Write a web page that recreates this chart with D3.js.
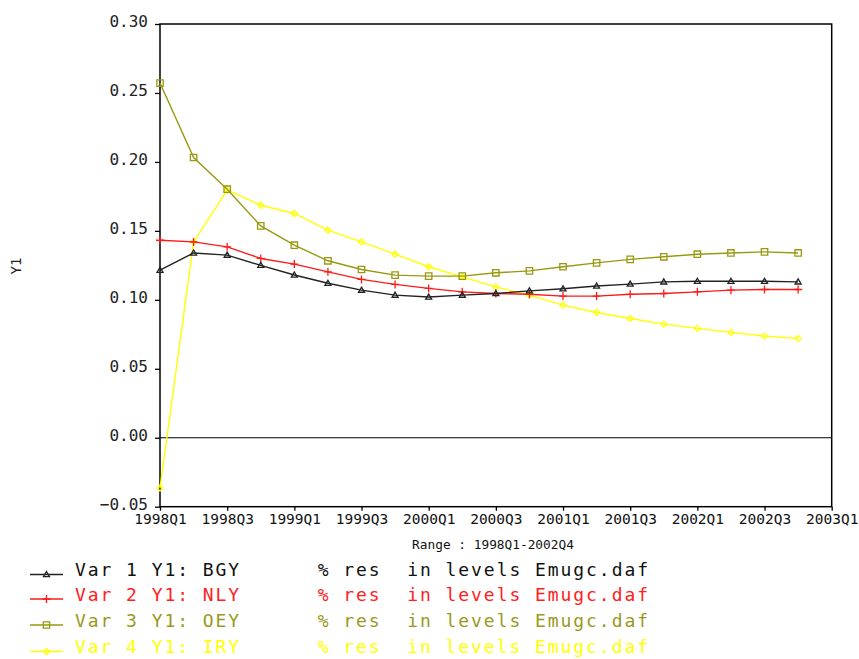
<!DOCTYPE html>
<html>
<head>
<meta charset="utf-8">
<script src="https://cdn.jsdelivr.net/npm/d3@7"></script>
<style>
  body { margin: 0; background: #fff; }
  svg { display: block; }
  text { font-family: "DejaVu Sans Mono", "Liberation Mono", monospace; white-space: pre; }
</style>
</head>
<body>
<script>
(function(){
  //quarters shown on the x axis (1998Q1 .. 2003Q1)
  var quarters = ["1998Q1","1998Q2","1998Q3","1998Q4","1999Q1","1999Q2","1999Q3","1999Q4",
                  "2000Q1","2000Q2","2000Q3","2000Q4","2001Q1","2001Q2","2001Q3","2001Q4",
                  "2002Q1","2002Q2","2002Q3","2002Q4","2003Q1"];
  var xTickLabels = ["1998Q1","1998Q3","1999Q1","1999Q3","2000Q1","2000Q3",
                     "2001Q1","2001Q3","2002Q1","2002Q3","2003Q1"];
  var yTicks = [-0.05, 0, 0.05, 0.10, 0.15, 0.20, 0.25, 0.30];

  //series values, 1998Q1 .. 2002Q4
  var bgy = [0.1215, 0.134, 0.1324, 0.125, 0.118, 0.112, 0.107, 0.1034, 0.102, 0.1034,
             0.1046, 0.1065, 0.108, 0.110, 0.1114, 0.113, 0.1135, 0.1135, 0.1135, 0.113];
  var nly = [0.1432, 0.142, 0.1384, 0.130, 0.1259, 0.1203, 0.1148, 0.1112, 0.1083, 0.1058,
             0.1046, 0.104, 0.1027, 0.1027, 0.104, 0.1046, 0.1058, 0.107, 0.1075, 0.1075];
  var oey = [0.2572, 0.2032, 0.1802, 0.1536, 0.1396, 0.1283, 0.122, 0.1179, 0.1172, 0.1172,
             0.1196, 0.121, 0.124, 0.1268, 0.1293, 0.1312, 0.1331, 0.134, 0.1348, 0.134];
  var iry = [-0.0365, 0.142, 0.1795, 0.1686, 0.1626, 0.1505, 0.142, 0.1331, 0.124, 0.1167,
             0.1094, 0.1034, 0.0962, 0.0908, 0.0865, 0.0824, 0.0793, 0.0764, 0.0737, 0.072];

  var seriesNames = ["Var 1 Y1: BGY", "Var 2 Y1: NLY", "Var 3 Y1: OEY", "Var 4 Y1: IRY"];
  var seriesValues = [bgy, nly, oey, iry];
  var seriesColors = ["#222222", "#ff1a1a", "#999911", "#ffff00"];
  var seriesTextColors = ["#111111", "#ff2020", "#999922", "#ffff00"];
  var seriesMarkers = ["triangle", "plus", "square", "diamond"];

  //frame dimensions
  var width = 859,
      height = 659,
      plotLeft = 160,
      plotRight = 831.7,
      plotTop = 24,
      plotBottom = 506.7;

  var svg = d3.select("body")
      .append("svg")
      .attr("width", width)
      .attr("height", height);

  var xScale = d3.scaleLinear()
      .domain([0, quarters.length - 1])
      .range([plotLeft, plotRight]);

  var yScale = d3.scaleLinear()
      .domain([-0.05, 0.30])
      .range([plotBottom, plotTop]);

  //left axis, ticks pointing out
  var yAxis = d3.axisLeft(yScale)
      .tickValues(yTicks)
      .tickSize(5)
      .tickPadding(7)
      .tickFormat(d3.format(".2f"));

  var yAxisG = svg.append("g")
      .attr("transform", "translate(" + plotLeft + ",0)")
      .call(yAxis);
  yAxisG.select(".domain").remove();
  yAxisG.selectAll("line").attr("stroke", "#000").attr("stroke-width", 1.3);
  yAxisG.selectAll("text")
      .attr("dy", "0.15em")
      .attr("fill", "#222")
      .style("font-size", "16px");

  //bottom axis, ticks pointing down
  var xAxis = d3.axisBottom(xScale)
      .tickValues(xTickLabels.map(function(q){ return quarters.indexOf(q); }))
      .tickSize(4)
      .tickPadding(3)
      .tickFormat(function(i){ return quarters[i]; });

  var xAxisG = svg.append("g")
      .attr("transform", "translate(0," + plotBottom + ")")
      .call(xAxis);
  xAxisG.select(".domain").remove();
  xAxisG.selectAll("line").attr("stroke", "#000").attr("stroke-width", 1.3);
  xAxisG.selectAll("text")
      .attr("fill", "#111")
      .style("font-size", "14.5px");

  //plot frame
  svg.append("rect")
      .attr("x", plotLeft)
      .attr("y", plotTop)
      .attr("width", plotRight - plotLeft)
      .attr("height", plotBottom - plotTop)
      .attr("fill", "none")
      .attr("stroke", "#000")
      .attr("stroke-width", 1.5);

  //zero line
  svg.append("line")
      .attr("x1", plotLeft)
      .attr("x2", plotRight)
      .attr("y1", yScale(0))
      .attr("y2", yScale(0))
      .attr("stroke", "#000")
      .attr("stroke-width", 1.2);

  //axis titles
  svg.append("text")
      .attr("transform", "translate(21,266) rotate(-90)")
      .attr("text-anchor", "middle")
      .attr("fill", "#222")
      .style("font-size", "14px")
      .text("Y1");

  svg.append("text")
      .attr("x", 493)
      .attr("y", 549)
      .attr("text-anchor", "middle")
      .attr("fill", "#111")
      .style("font-size", "12.8px")
      .text("Range : 1998Q1-2002Q4");

  //marker shapes
  function markerPath(type, s){
    if (type == "triangle"){
      return "M0," + (-s) + "L" + s + "," + (s * 0.7) + "L" + (-s) + "," + (s * 0.7) + "Z";
    } else if (type == "plus"){
      return "M" + (-s) + ",0L" + s + ",0M0," + (-s) + "L0," + s;
    } else if (type == "square"){
      return "M" + (-s) + "," + (-s) + "H" + s + "V" + s + "H" + (-s) + "Z";
    } else {
      return "M0," + (-s) + "L" + s + ",0L0," + s + "L" + (-s) + ",0Z";
    }
  };

  var markerSizes = { triangle: 3, plus: 4, square: 3.2, diamond: 3 };

  var line = d3.line()
      .x(function(d, i){ return xScale(i); })
      .y(function(d){ return yScale(d); });

  //draw series, last one first so black stays on top
  for (var k = seriesValues.length - 1; k >= 0; k--){
    var color = seriesColors[k];
    var type = seriesMarkers[k];
    var g = svg.append("g").attr("class", "series s" + k);

    g.append("path")
        .datum(seriesValues[k])
        .attr("d", line)
        .attr("fill", "none")
        .attr("stroke", color)
        .attr("stroke-width", 1.4);

    g.selectAll(".mark")
        .data(seriesValues[k])
        .enter()
        .append("path")
        .attr("class", "mark")
        .attr("transform", function(d, i){
            return "translate(" + xScale(i) + "," + yScale(d) + ")";
        })
        .attr("d", markerPath(type, markerSizes[type]))
        .attr("fill", "none")
        .attr("stroke", color)
        .attr("stroke-width", 1.3);
  };

  //legend
  var legendY = [574.5, 599, 625, 651.5];
  var legend = svg.append("g").attr("class", "legend");

  seriesNames.forEach(function(name, k){
    var y = legendY[k];
    legend.append("line")
        .attr("x1", 30)
        .attr("x2", 63)
        .attr("y1", y)
        .attr("y2", y)
        .attr("stroke", seriesColors[k])
        .attr("stroke-width", 1.4);
    legend.append("path")
        .attr("transform", "translate(46.5," + y + ")")
        .attr("d", markerPath(seriesMarkers[k], markerSizes[seriesMarkers[k]]))
        .attr("fill", "none")
        .attr("stroke", seriesColors[k])
        .attr("stroke-width", 1.3);
    legend.append("text")
        .attr("x", 75)
        .attr("y", y + 1.5)
        .attr("fill", seriesTextColors[k])
        .style("font-size", "18px")
        .style("letter-spacing", "1.94px")
        .text(name + "      % res  in levels Emugc.daf");
  });

})();
</script>
</body>
</html>
